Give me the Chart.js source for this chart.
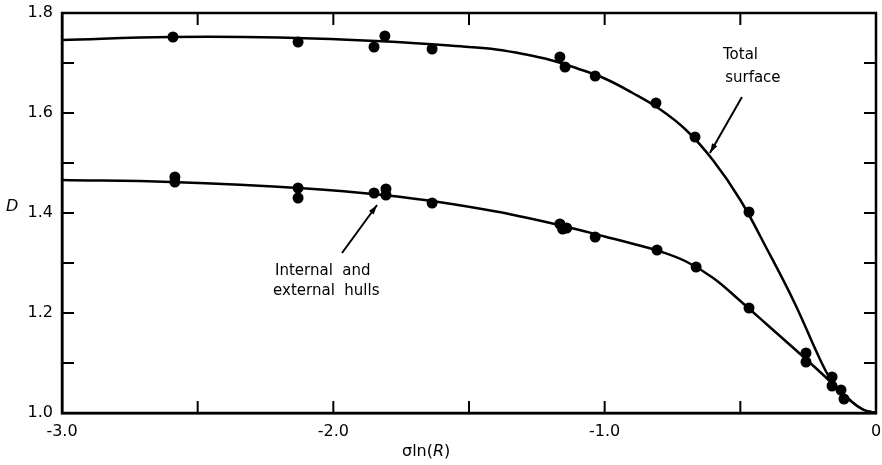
<!DOCTYPE html>
<html>
<head>
<meta charset="utf-8">
<script src="https://cdn.jsdelivr.net/npm/chart.js@4/dist/chart.umd.min.js"></script>
<style>
  html, body { margin: 0; padding: 0; background: #fff; }
  #wrap { width: 882px; height: 465px; }
</style>
</head>
<body>
<div id="wrap"><canvas id="chartCanvas" width="882" height="465"></canvas></div>
<script>
var totalX = [-2.591, -2.13, -1.85, -1.81, -1.636, -1.165, -1.146, -1.035, -0.811, -0.667, -0.468]
var totalY = [1.752, 1.742, 1.732, 1.754, 1.728, 1.712, 1.692, 1.674, 1.62, 1.552, 1.402]

var hullX = [-2.584, -2.584, -2.13, -2.13, -1.85, -1.806, -1.806, -1.636, -1.165, -1.155, -1.14, -1.035,
             -0.807, -0.663, -0.468, -0.258, -0.258, -0.162, -0.162, -0.129, -0.118]
var hullY = [1.472, 1.462, 1.45, 1.43, 1.44, 1.448, 1.436, 1.42, 1.378, 1.368, 1.37, 1.352,
             1.326, 1.292, 1.21, 1.12, 1.102, 1.072, 1.054, 1.046, 1.028]

// fitted curves
var totalCurveX = [-3.0, -2.6, -2.2, -1.8, -1.5, -1.4, -1.3, -1.2, -1.1, -1.0, -0.9, -0.8, -0.7,
                   -0.6, -0.5, -0.4, -0.3, -0.2, -0.15, -0.1, -0.05, 0]
var totalCurveY = [1.746, 1.752, 1.751, 1.743, 1.732, 1.727, 1.718, 1.706, 1.689, 1.669, 1.641, 1.609, 1.566,
                   1.505, 1.426, 1.326, 1.22, 1.1, 1.053, 1.0275, 1.0075, 1.0]

var hullCurveX = [-3.0, -2.6, -2.1, -1.8, -1.6, -1.4, -1.3, -1.2, -1.1, -1.0, -0.9, -0.8, -0.7,
                  -0.6, -0.5, -0.4, -0.3, -0.2, -0.15, -0.1, -0.05, 0]
var hullCurveY = [1.466, 1.462, 1.449, 1.435, 1.421, 1.403, 1.392, 1.38, 1.367, 1.353, 1.339, 1.324, 1.303,
                  1.27, 1.224, 1.176, 1.128, 1.079, 1.053, 1.0275, 1.0075, 1.0]

// tick labels
var xTickValues = [-3, -2, -1, 0]
var xTickLabels = ['-3.0', '-2.0', '-1.0', '0']
var yTickValues = [1.0, 1.2, 1.4, 1.6, 1.8]
var yTickLabels = ['1.0', '1.2', '1.4', '1.6', '1.8']

var FONT = '"DejaVu Sans", sans-serif'

function toPoints(xs, ys) {
    return xs.map((x, i) => ({ x: x, y: ys[i] }))
}

function findLabel(values, labels, v) {
    for (var i = 0; i < values.length; i++) {
        if (Math.abs(values[i] - v) < 1e-6) return labels[i]
    }
    return ''
}

// frame, inward ticks and the text notes
var decorPlugin = {
    id: 'decor',
    afterDraw(chart) {
        var ctx = chart.ctx
        var a = chart.chartArea
        var xs = chart.scales.x
        var ys = chart.scales.y
        ctx.save()
        ctx.strokeStyle = '#000'
        ctx.lineWidth = 2.5
        ctx.strokeRect(a.left, a.top, a.right - a.left, a.bottom - a.top)

        ctx.lineWidth = 2
        var len = 12
        ctx.beginPath()
        xs.ticks.forEach(t => {
            var px = xs.getPixelForValue(t.value)
            ctx.moveTo(px, a.bottom); ctx.lineTo(px, a.bottom - len)
            ctx.moveTo(px, a.top); ctx.lineTo(px, a.top + len)
        })
        ys.ticks.forEach(t => {
            var py = ys.getPixelForValue(t.value)
            ctx.moveTo(a.left, py); ctx.lineTo(a.left + len, py)
            ctx.moveTo(a.right, py); ctx.lineTo(a.right - len, py)
        })
        ctx.stroke()

        // axis titles
        ctx.fillStyle = '#000'
        ctx.textBaseline = 'middle'
        ctx.textAlign = 'left'
        ctx.font = 'italic 16px ' + FONT
        ctx.fillText('D', 6, ys.getPixelForValue(1.412))

        var tx = 402, ty = 452
        ctx.font = '16px ' + FONT
        ctx.fillText('σln(', tx, ty)
        tx += ctx.measureText('σln(').width
        ctx.font = 'italic 16px ' + FONT
        ctx.fillText('R', tx, ty)
        tx += ctx.measureText('R').width
        ctx.font = '16px ' + FONT
        ctx.fillText(')', tx, ty)

        // notes and arrows
        ctx.font = '15px ' + FONT
        ctx.fillText('Total', xs.getPixelForValue(-0.564), ys.getPixelForValue(1.716))
        ctx.fillText('surface', xs.getPixelForValue(-0.556), ys.getPixelForValue(1.67))
        ctx.fillText('Internal  and', xs.getPixelForValue(-2.215), ys.getPixelForValue(1.284))
        ctx.fillText('external  hulls', xs.getPixelForValue(-2.222), ys.getPixelForValue(1.244))

        drawArrow(ctx, xs.getPixelForValue(-0.494), ys.getPixelForValue(1.632),
                  xs.getPixelForValue(-0.612), ys.getPixelForValue(1.52))
        drawArrow(ctx, xs.getPixelForValue(-1.968), ys.getPixelForValue(1.32),
                  xs.getPixelForValue(-1.839), ys.getPixelForValue(1.416))
        ctx.restore()
    }
}

function drawArrow(ctx, x1, y1, x2, y2) {
    var ang = Math.atan2(y2 - y1, x2 - x1)
    var head = 10
    ctx.lineWidth = 2
    ctx.beginPath()
    ctx.moveTo(x1, y1)
    ctx.lineTo(x2, y2)
    ctx.stroke()
    ctx.beginPath()
    ctx.moveTo(x2, y2)
    ctx.lineTo(x2 - head * Math.cos(ang - 0.3), y2 - head * Math.sin(ang - 0.3))
    ctx.lineTo(x2 - head * Math.cos(ang + 0.3), y2 - head * Math.sin(ang + 0.3))
    ctx.closePath()
    ctx.fill()
}

var lineStyle = {
    showLine: true,
    pointRadius: 0,
    borderColor: '#000',
    borderWidth: 2.5,
    tension: 0.4,
    fill: false
}
var dotStyle = {
    showLine: false,
    pointRadius: 5.5,
    pointBackgroundColor: '#000',
    pointBorderColor: '#000',
    pointBorderWidth: 0
}

var ctx = document.getElementById('chartCanvas')
var myChart = new Chart(ctx, {
    type: 'scatter',
    data: {
        datasets: [
            Object.assign({ label: 'Total surface curve', data: toPoints(totalCurveX, totalCurveY) }, lineStyle),
            Object.assign({ label: 'Hulls curve', data: toPoints(hullCurveX, hullCurveY) }, lineStyle),
            Object.assign({ label: 'Total surface', data: toPoints(totalX, totalY) }, dotStyle),
            Object.assign({ label: 'Internal and external hulls', data: toPoints(hullX, hullY) }, dotStyle)
        ]
    },
    options: {
        responsive: false,
        animation: false,
        events: [],
        layout: { padding: { top: 13, right: 6, left: 0, bottom: 0 } },
        plugins: { legend: { display: false }, tooltip: { enabled: false } },
        scales: {
            x: {
                type: 'linear',
                min: -3, max: 0,
                afterFit: s => { s.height = 52; s.paddingLeft = 0; s.paddingRight = 0 },
                grid: { display: true, drawOnChartArea: false, drawTicks: false },
                border: { display: true, color: '#000', width: 2.5 },
                ticks: {
                    stepSize: 0.5,
                    padding: 9,
                    maxRotation: 0,
                    autoSkip: false,
                    color: '#000',
                    font: { family: FONT, size: 16 },
                    callback: v => findLabel(xTickValues, xTickLabels, v)
                }
            },
            y: {
                type: 'linear',
                min: 1.0, max: 1.8,
                afterFit: s => { s.width = 62; s.paddingTop = 0; s.paddingBottom = 0 },
                grid: { display: true, drawOnChartArea: false, drawTicks: false },
                border: { display: true, color: '#000', width: 2.5 },
                ticks: {
                    stepSize: 0.1,
                    padding: 9,
                    autoSkip: false,
                    color: '#000',
                    font: { family: FONT, size: 16 },
                    callback: v => findLabel(yTickValues, yTickLabels, v)
                }
            }
        }
    },
    plugins: [decorPlugin]
})
</script>
</body>
</html>
